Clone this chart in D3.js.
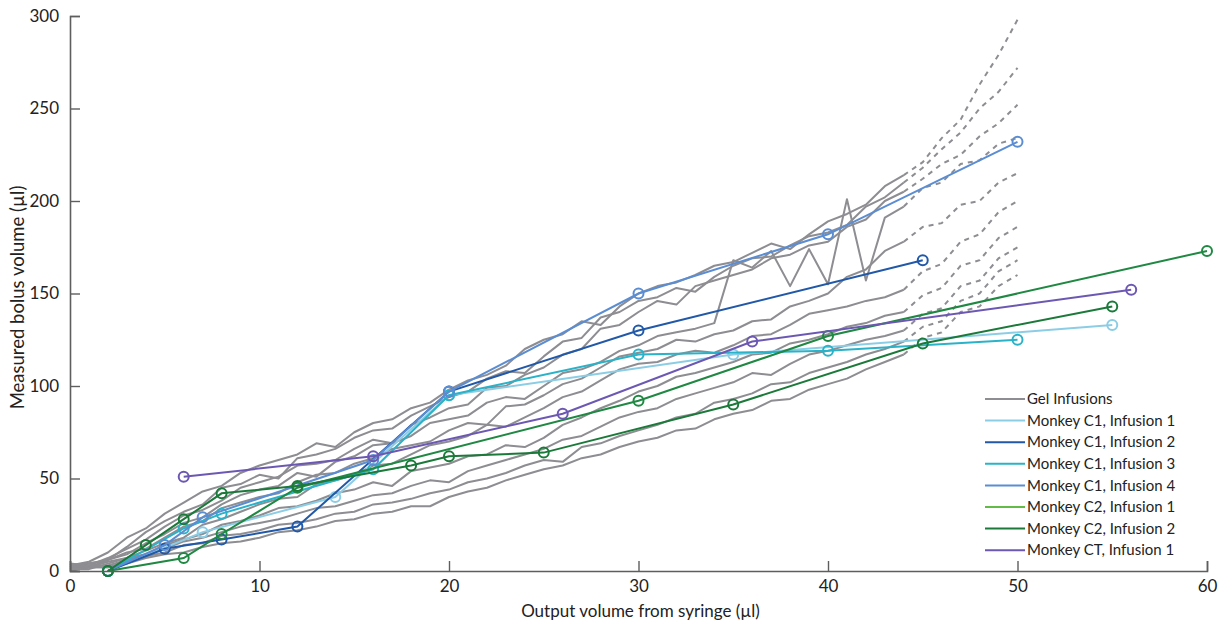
<!DOCTYPE html>
<html>
<head>
<meta charset="utf-8">
<script src="https://cdn.jsdelivr.net/npm/d3@7"></script>
<style>
  body { margin: 0; background: #fff; }
  text { font-family: Lato, "Open Sans", sans-serif; fill: #222; }
</style>
</head>
<body>
<script>
// gel infusion traces: y values at x = 0,1,...,44 (solid), then 44..50 (dashed)
const gelX = d3.range(0, 45);
const gelTailX = [44, 45, 46, 47, 48, 49, 50];

const gel1 = [3,5,10,18,23,31,37,43,46,53,57,60,63,69,67,75,80,82,88,91,98,103,106,111,120,125,128,135,133,143,150,154,156,160,165,167,172,177,174,182,189,193,198,208,214];
const gel2 = [2,4,6,13,21,27,32,36,45,47,52,50,61,63,66,72,76,77,84,89,94,97,104,108,107,116,124,126,137,140,146,148,153,151,159,165,169,170,176,181,183,187,197,202,210];
const gel3 = [4,3,7,12,17,24,30,33,38,45,48,51,57,58,60,66,71,69,79,83,88,90,99,100,106,110,117,120,131,133,140,146,144,154,157,160,163,169,171,176,178,186,190,200,205];
const gel4 = [1,2,6,9,15,20,26,29,36,41,44,46,53,51,59,62,68,69,73,80,82,84,91,94,93,100,107,109,113,119,122,127,129,131,134,168,164,173,154,174,155,201,157,191,197];
const gel5 = [3,4,6,10,12,18,24,27,34,37,40,42,48,52,53,58,61,66,68,70,76,80,79,89,90,95,101,104,110,116,118,120,125,124,128,130,135,136,143,146,150,159,163,173,178];
const gel6 = [2,2,5,7,11,15,18,25,28,32,36,39,40,47,49,52,57,58,63,68,70,73,79,78,83,88,94,97,103,109,112,113,117,119,118,122,127,128,133,139,141,143,146,148,152];
const gel7 = [1,1,4,7,9,14,17,20,25,27,30,34,35,38,42,44,48,46,54,56,58,62,63,68,67,72,79,83,88,92,97,100,105,107,110,113,117,118,123,125,128,132,134,138,140];
const gel8 = [2,3,3,6,9,12,16,18,21,24,26,28,31,34,35,38,41,42,46,49,48,54,57,60,63,66,71,73,78,83,86,88,93,96,99,102,107,106,112,117,119,122,125,127,130];
const gel9 = [0,2,2,5,8,10,14,15,19,20,22,25,26,28,31,32,36,37,39,42,44,48,50,53,57,60,59,67,69,73,76,79,83,85,91,93,96,101,102,107,110,113,117,120,124];
const gel10 = [1,2,2,4,7,9,10,13,15,16,18,21,22,24,27,28,31,32,35,35,40,43,45,49,52,55,57,61,63,67,70,72,76,77,82,85,87,92,93,98,101,104,109,113,117];

const gelTail1 = [214,221,234,244,263,279,298];
const gelTail2 = [210,218,228,237,250,259,272];
const gelTail3 = [205,212,220,225,235,242,252];
const gelTail4 = [197,207,210,220,222,231,234];
const gelTail5 = [178,186,188,198,200,210,215];
const gelTail6 = [152,162,166,178,182,194,200];
const gelTail7 = [140,149,153,165,168,180,186];
const gelTail8 = [130,139,142,154,157,169,175];
const gelTail9 = [124,132,135,146,150,162,168];
const gelTail10 = [117,126,129,140,143,154,160];

const gelLines = [gel1, gel2, gel3, gel4, gel5, gel6, gel7, gel8, gel9, gel10];
const gelTails = [gelTail1, gelTail2, gelTail3, gelTail4, gelTail5, gelTail6, gelTail7, gelTail8, gelTail9, gelTail10];

// monkey infusions
const c1i1X = [2, 7, 14, 20, 35, 55];
const c1i1Y = [0, 21, 40, 95, 117, 133];
const c1i2X = [2, 5, 8, 12, 20, 30, 45];
const c1i2Y = [0, 12, 17, 24, 97, 130, 168];
const c1i3X = [2, 6, 8, 16, 20, 30, 40, 50];
const c1i3Y = [0, 23, 31, 55, 95, 117, 119, 125];
const c1i4X = [2, 5, 7, 16, 20, 30, 40, 50];
const c1i4Y = [0, 14, 29, 60, 97, 150, 182, 232];
const c2i1X = [2, 6, 8, 12, 30, 40, 60];
const c2i1Y = [0, 7, 20, 45, 92, 127, 173];
const c2i2X = [2, 4, 6, 8, 12, 18, 20, 25, 35, 45, 55];
const c2i2Y = [0, 14, 28, 42, 46, 57, 62, 64, 90, 123, 143];
const ct1X = [6, 16, 26, 36, 56];
const ct1Y = [51, 62, 85, 124, 152];

const seriesNames = ['Monkey C1, Infusion 1', 'Monkey C1, Infusion 2', 'Monkey C1, Infusion 3',
  'Monkey C1, Infusion 4', 'Monkey C2, Infusion 1', 'Monkey C2, Infusion 2', 'Monkey CT, Infusion 1'];
const seriesX = [c1i1X, c1i2X, c1i3X, c1i4X, c2i1X, c2i2X, ct1X];
const seriesY = [c1i1Y, c1i2Y, c1i3Y, c1i4Y, c2i1Y, c2i2Y, ct1Y];
const lineColors = ['#8ccde6', '#2159a8', '#2ab3c8', '#5b8dd3', '#1f8842', '#1b7a3a', '#6c58b3'];
const legendColors = ['#8ccde6', '#2159a8', '#2ab3c8', '#5b8dd3', '#62bb46', '#1b7a3a', '#6c58b3'];
const gelColor = '#8d8d92';

const xTicks = [0, 10, 20, 30, 40, 50, 60];
const yTicks = [0, 50, 100, 150, 200, 250, 300];

const margin = {left: 70, top: 16};
const width = 1137;
const height = 555;

const svg = d3.select('body')
  .append('svg')
  .attr('width', 1225)
  .attr('height', 631);

const g = svg.append('g')
  .attr('transform', `translate(${margin.left}, ${margin.top})`);

const x = d3.scaleLinear().domain([0, 60]).range([0, width]);
const y = d3.scaleLinear().domain([0, 300]).range([height, 0]);

const line = d3.line().x(d => x(d[0])).y(d => y(d[1]));

// gel traces
gelLines.forEach((ys, i) => {
  g.append('path')
    .datum(ys.map((v, j) => [gelX[j], v]))
    .attr('d', line)
    .attr('fill', 'none')
    .attr('stroke', gelColor)
    .attr('stroke-width', 2)
    .attr('stroke-linejoin', 'round');
  g.append('path')
    .datum(gelTails[i].map((v, j) => [gelTailX[j], v]))
    .attr('d', line)
    .attr('fill', 'none')
    .attr('stroke', gelColor)
    .attr('stroke-width', 2)
    .attr('stroke-dasharray', '5,5');
});

// monkey series
seriesX.forEach((xs, i) => {
  const pts = xs.map((v, j) => [v, seriesY[i][j]]);
  g.append('path')
    .datum(pts)
    .attr('d', line)
    .attr('fill', 'none')
    .attr('stroke', lineColors[i])
    .attr('stroke-width', 2);
  g.selectAll(null)
    .data(pts)
    .enter()
    .append('circle')
    .attr('cx', d => x(d[0]))
    .attr('cy', d => y(d[1]))
    .attr('r', 5)
    .attr('fill', 'none')
    .attr('stroke', lineColors[i])
    .attr('stroke-width', 2);
});

// axes
const xAxis = d3.axisBottom(x).tickValues(xTicks).tickSize(-10).tickPadding(9);
const yAxis = d3.axisLeft(y).tickValues(yTicks).tickSize(-10).tickPadding(11);

const xg = g.append('g').attr('transform', `translate(0, ${height})`).call(xAxis);
const yg = g.append('g').call(yAxis);
[xg, yg].forEach(a => {
  a.select('.domain').attr('stroke', '#5e5e5e').attr('stroke-width', 1.6);
  a.selectAll('.tick line').attr('stroke', '#5e5e5e').attr('stroke-width', 1.4);
  a.selectAll('.tick text').style('font-size', '17px').attr('fill', '#222');
});

svg.append('text')
  .attr('x', margin.left + width / 2 + 2)
  .attr('y', 617)
  .attr('text-anchor', 'middle')
  .style('font-size', '17px')
  .text('Output volume from syringe (µl)');

svg.append('text')
  .attr('transform', `translate(24, ${margin.top + height / 2 + 4}) rotate(-90)`)
  .attr('text-anchor', 'middle')
  .style('font-size', '18.5px')
  .text('Measured bolus volume (µl)');

// legend
const legendNames = ['Gel Infusions'].concat(seriesNames);
const legendCols = [gelColor].concat(legendColors);
const legend = svg.append('g').attr('transform', 'translate(985, 399)');
legendNames.forEach((name, i) => {
  const row = legend.append('g').attr('transform', `translate(0, ${i * 21.6})`);
  row.append('line')
    .attr('x1', 0).attr('x2', 40)
    .attr('stroke', legendCols[i])
    .attr('stroke-width', 2);
  row.append('text')
    .attr('x', 42)
    .attr('dy', '0.35em')
    .style('font-size', '15px')
    .text(name);
});
</script>
</body>
</html>
